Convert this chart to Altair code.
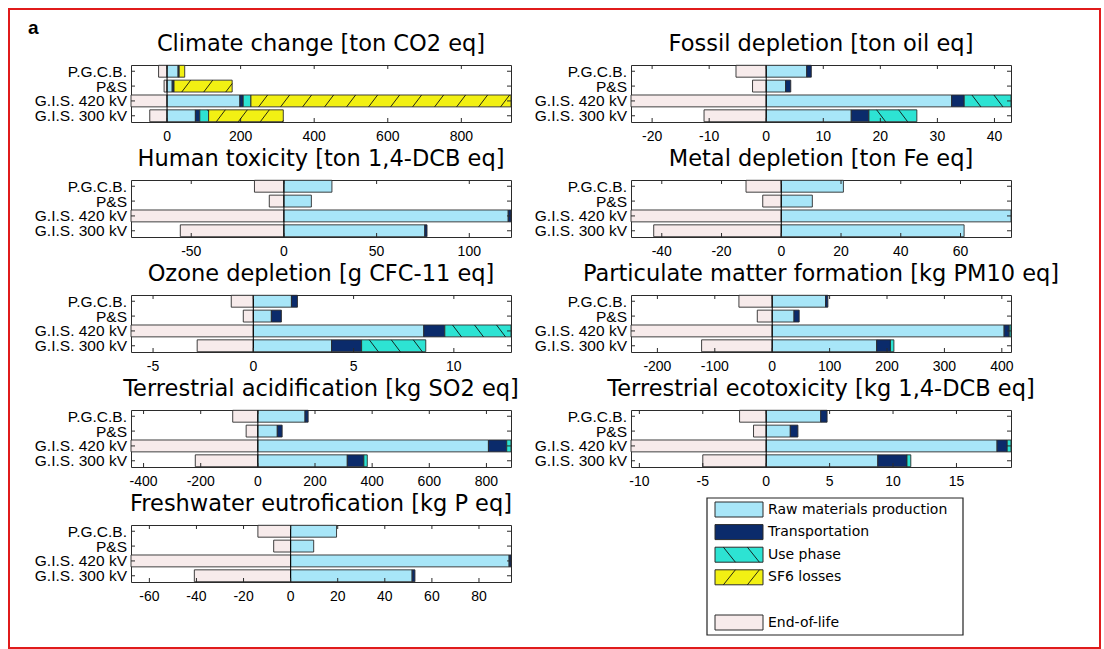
import altair as alt
import pandas as pd

# ---------------------------------------------------------------- data
categories = ["P.G.C.B.", "P&S", "G.I.S. 420 kV", "G.I.S. 300 kV"]
stages = ["Raw materials production", "Transportation", "Use phase", "SF6 losses", "End-of-life"]
stage_colors = ["#a8e6f8", "#0b2b6b", "#2de3d3", "#f2f013", "#f7ebeb"]
hatched = {"Use phase": "\\", "SF6 losses": "/"}

climate_title = "Climate change [ton CO2 eq]"
climate_raw = [30, 14, 198, 77]
climate_transport = [3, 5, 9, 12]
climate_use = [0, 0, 21, 24]
climate_sf6 = [15, 158, 707, 203]
climate_eol = [-23, -8, -98, -47]
climate_ticks = [0, 200, 400, 600, 800]

fossil_title = "Fossil depletion [ton oil eq]"
fossil_raw = [7.1, 3.4, 32.5, 14.9]
fossil_transport = [0.8, 0.9, 2.2, 3.1]
fossil_use = [0, 0, 8.2, 8.4]
fossil_sf6 = [0, 0, 0, 0]
fossil_eol = [-5.3, -2.4, -23.7, -10.9]
fossil_ticks = [-20, -10, 0, 10, 20, 30, 40]

human_title = "Human toxicity [ton 1,4-DCB eq]"
human_raw = [25.9, 14.8, 121.0, 76.0]
human_transport = [0, 0, 1.5, 1.2]
human_use = [0, 0, 0, 0]
human_sf6 = [0, 0, 0, 0]
human_eol = [-15.9, -7.9, -82.5, -55.9]
human_ticks = [-50, 0, 50, 100]

metal_title = "Metal depletion [ton Fe eq]"
metal_raw = [20.8, 10.4, 76.9, 61.2]
metal_transport = [0, 0, 0, 0]
metal_use = [0, 0, 0, 0]
metal_sf6 = [0, 0, 0, 0]
metal_eol = [-11.8, -6.2, -50.3, -42.7]
metal_ticks = [-40, -20, 0, 20, 40, 60]

ozone_title = "Ozone depletion [g CFC-11 eq]"
ozone_raw = [1.9, 0.9, 8.5, 3.9]
ozone_transport = [0.3, 0.5, 1.05, 1.5]
ozone_use = [0, 0, 3.3, 3.2]
ozone_sf6 = [0, 0, 0, 0]
ozone_eol = [-1.1, -0.5, -6.1, -2.8]
ozone_ticks = [-5, 0, 5, 10]

pm_title = "Particulate matter formation [kg PM10 eq]"
pm_raw = [93, 38, 404, 182]
pm_transport = [4, 9, 9, 24]
pm_use = [0, 0, 3, 6]
pm_sf6 = [0, 0, 0, 0]
pm_eol = [-58, -26, -246, -123]
pm_ticks = [-200, -100, 0, 100, 200, 300, 400]

acid_title = "Terrestrial acidification [kg SO2 eq]"
acid_raw = [165, 68, 807, 313]
acid_transport = [11, 17, 64, 58]
acid_use = [0, 0, 15, 12]
acid_sf6 = [0, 0, 0, 0]
acid_eol = [-88, -41, -444, -219]
acid_ticks = [-400, -200, 0, 200, 400, 600, 800]

ecotox_title = "Terrestrial ecotoxicity [kg 1,4-DCB eq]"
ecotox_raw = [4.3, 1.9, 18.2, 8.8]
ecotox_transport = [0.5, 0.6, 0.8, 2.3]
ecotox_use = [0, 0, 0.3, 0.3]
ecotox_sf6 = [0, 0, 0, 0]
ecotox_eol = [-2.1, -1.0, -10.66, -5.0]
ecotox_ticks = [-10, -5, 0, 5, 10, 15]

fresh_title = "Freshwater eutrofication [kg P eq]"
fresh_raw = [19.5, 9.8, 92.8, 51.6]
fresh_transport = [0, 0, 0.8, 1.2]
fresh_use = [0, 0, 0, 0]
fresh_sf6 = [0, 0, 0, 0]
fresh_eol = [-13.9, -7.2, -67.8, -40.9]
fresh_ticks = [-60, -40, -20, 0, 20, 40, 60, 80]

# ---------------------------------------------------------------- styling
W, H = 380, 57
BAR_HALF = 0.4
Y_LO, Y_HI = 0.58, 4.42
TICK_LEN = 4
HATCH_STEP_PX = 22.0
HATCH_SLANT_PX = 9.0
TITLE_FONT = "DejaVu Sans"
LABEL_FONT = "Liberation Sans"
LEGEND_FONT = "DejaVu Sans"
EDGE = "#2b2b2b"


def hatch_segments(a, b, top, bottom, direction, step, slant):
    """Diagonal hatch strokes clipped to the rectangle [a, b] x [top, bottom]."""
    ys, ye = (bottom, top) if direction == "/" else (top, bottom)
    out = []
    xs = a + 0.35 * step
    while xs - step + slant > a:
        xs -= step
    while xs < b:
        t0 = max(0.0, (a - xs) / slant)
        t1 = min(1.0, (b - xs) / slant)
        if t1 > t0:
            out.append(dict(hx0=xs + t0 * slant, hx1=xs + t1 * slant,
                            hy0=ys + t0 * (ye - ys), hy1=ys + t1 * (ye - ys)))
        xs += step
    return out


color_enc = alt.Color("stage:N", scale=alt.Scale(domain=stages, range=stage_colors), legend=None)


def impact_panel(title, raw, transport, use, sf6, eol, ticks):
    series = [raw, transport, use, sf6]
    totals = [sum(s[i] for s in series) for i in range(len(categories))]
    lo, hi = min(eol), max(totals)
    ppu = W / (hi - lo)
    step = HATCH_STEP_PX / ppu
    slant = HATCH_SLANT_PX / ppu

    bars, lines = [], []
    for i, cat in enumerate(categories):
        pos = i + 1
        top, bottom = pos - BAR_HALF, pos + BAR_HALF
        bars.append(dict(cat=cat, stage="End-of-life", x0=eol[i], x1=0, y0=top, y1=bottom))
        left = 0.0
        for stage, vals in zip(stages[:4], series):
            v = vals[i]
            if v <= 0:
                continue
            bars.append(dict(cat=cat, stage=stage, x0=left, x1=left + v, y0=top, y1=bottom))
            if stage in hatched:
                lines += hatch_segments(left, left + v, top, bottom, hatched[stage], step, slant)
            left += v

    xs = alt.Scale(domain=[lo, hi], nice=False, zero=False)
    ys = alt.Scale(domain=[Y_LO, Y_HI], reverse=True, nice=False, zero=False)

    layers = [
        alt.Chart(pd.DataFrame(bars)).mark_rect(stroke=EDGE, strokeWidth=0.9).encode(
            x=alt.X("x0:Q", scale=xs, axis=None),
            x2="x1:Q",
            y=alt.Y("y0:Q", scale=ys, axis=None),
            y2="y1:Q",
            color=color_enc,
        )
    ]
    if lines:
        layers.append(
            alt.Chart(pd.DataFrame(lines)).mark_rule(color="#111111", strokeWidth=0.9).encode(
                x=alt.X("hx0:Q", scale=xs, axis=None), x2="hx1:Q",
                y=alt.Y("hy0:Q", scale=ys, axis=None), y2="hy1:Q",
            )
        )
    layers.append(
        alt.Chart(pd.DataFrame({"z": [0]})).mark_rule(color="black", strokeWidth=1).encode(
            x=alt.X("z:Q", scale=xs, axis=None), y=alt.value(0), y2=alt.value(H)
        )
    )
    # inward tick marks on all four sides of the box
    tick_df = pd.DataFrame({"t": ticks, "label": [str(t) for t in ticks]})
    for y0, y1 in [(0, TICK_LEN), (H - TICK_LEN, H)]:
        layers.append(
            alt.Chart(tick_df).mark_rule(color=EDGE, strokeWidth=1).encode(
                x=alt.X("t:Q", scale=xs, axis=None), y=alt.value(y0), y2=alt.value(y1)
            )
        )
    pos_df = pd.DataFrame({"p": [1, 2, 3, 4], "cat": categories})
    for x0, x1 in [(0, TICK_LEN), (W - TICK_LEN, W)]:
        layers.append(
            alt.Chart(pos_df).mark_rule(color=EDGE, strokeWidth=1).encode(
                y=alt.Y("p:Q", scale=ys, axis=None), x=alt.value(x0), x2=alt.value(x1)
            )
        )
    # tick labels and category labels
    layers.append(
        alt.Chart(tick_df).mark_text(baseline="top", fontSize=14, font=LABEL_FONT,
                                     color="black").encode(
            x=alt.X("t:Q", scale=xs, axis=None), y=alt.value(H + 8), text="label:N"
        )
    )
    layers.append(
        alt.Chart(pos_df).mark_text(align="right", baseline="middle", fontSize=15.5,
                                    font=LABEL_FONT, color="black", dy=0.5).encode(
            y=alt.Y("p:Q", scale=ys, axis=None), x=alt.value(-4), text="cat:N"
        )
    )
    return alt.layer(*layers).properties(
        width=W, height=H,
        title=alt.TitleParams(title, fontSize=22.5, font=TITLE_FONT, fontWeight="normal",
                              anchor="middle", color="black", offset=9),
    )


panels = [
    impact_panel(climate_title, climate_raw, climate_transport, climate_use, climate_sf6,
                 climate_eol, climate_ticks),
    impact_panel(fossil_title, fossil_raw, fossil_transport, fossil_use, fossil_sf6,
                 fossil_eol, fossil_ticks),
    impact_panel(human_title, human_raw, human_transport, human_use, human_sf6,
                 human_eol, human_ticks),
    impact_panel(metal_title, metal_raw, metal_transport, metal_use, metal_sf6,
                 metal_eol, metal_ticks),
    impact_panel(ozone_title, ozone_raw, ozone_transport, ozone_use, ozone_sf6,
                 ozone_eol, ozone_ticks),
    impact_panel(pm_title, pm_raw, pm_transport, pm_use, pm_sf6, pm_eol, pm_ticks),
    impact_panel(acid_title, acid_raw, acid_transport, acid_use, acid_sf6,
                 acid_eol, acid_ticks),
    impact_panel(ecotox_title, ecotox_raw, ecotox_transport, ecotox_use, ecotox_sf6,
                 ecotox_eol, ecotox_ticks),
    impact_panel(fresh_title, fresh_raw, fresh_transport, fresh_use, fresh_sf6,
                 fresh_eol, fresh_ticks),
]

# ---------------------------------------------------------------- legend cell
LEG_W, LEG_H = 256, 137
leg_x = alt.Scale(domain=[0, LEG_W], range=[76, 332], nice=False, zero=False)
leg_y = alt.Scale(domain=[0, LEG_H], range=[-27, 110], nice=False, zero=False)
legend_slots = [0, 1, 2, 3, 5]
swatches, leg_lines = [], []
for stage, slot in zip(stages, legend_slots):
    yc = 11.5 + 22.6 * slot
    top, bottom = yc - 7.5, yc + 7.5
    swatches.append(dict(stage=stage, x0=8, x1=56, y0=top, y1=bottom, tx=61, ty=yc))
    if stage in hatched:
        leg_lines += hatch_segments(8, 56, top, bottom, hatched[stage], 24, 12)

box_df = pd.DataFrame([dict(x0=0, x1=LEG_W, y0=0, y1=LEG_H)])
sw_df = pd.DataFrame(swatches)

# figure frame and panel letter, placed relative to this last cell
one = pd.DataFrame({"k": [0]})
frame = alt.Chart(one).mark_rect(filled=False, stroke="#e01b1b", strokeWidth=2).encode(
    x=alt.value(-622), x2=alt.value(469), y=alt.value(-516), y2=alt.value(123)
)
letter = alt.Chart(one).mark_text(text="a", fontSize=19, fontWeight="bold", font="Liberation Sans",
                                  align="left", baseline="alphabetic").encode(
    x=alt.value(-603), y=alt.value(-491)
)

legend = alt.layer(
    frame,
    letter,
    alt.Chart(box_df).mark_rect(fill="white", stroke="#222222", strokeWidth=1.2).encode(
        x=alt.X("x0:Q", scale=leg_x, axis=None), x2="x1:Q",
        y=alt.Y("y0:Q", scale=leg_y, axis=None), y2="y1:Q",
    ),
    alt.Chart(sw_df).mark_rect(stroke=EDGE, strokeWidth=1).encode(
        x=alt.X("x0:Q", scale=leg_x, axis=None), x2="x1:Q",
        y=alt.Y("y0:Q", scale=leg_y, axis=None), y2="y1:Q",
        color=color_enc,
    ),
    alt.Chart(pd.DataFrame(leg_lines)).mark_rule(color="#111111", strokeWidth=0.9).encode(
        x=alt.X("hx0:Q", scale=leg_x, axis=None), x2="hx1:Q",
        y=alt.Y("hy0:Q", scale=leg_y, axis=None), y2="hy1:Q",
    ),
    alt.Chart(sw_df).mark_text(align="left", baseline="middle", fontSize=14, font=LEGEND_FONT,
                               color="black").encode(
        x=alt.X("tx:Q", scale=leg_x, axis=None),
        y=alt.Y("ty:Q", scale=leg_y, axis=None),
        text="stage:N",
    ),
).properties(width=W, height=H, view=alt.ViewBackground(stroke="transparent"))

chart = alt.concat(
    *panels, legend, columns=2, spacing={"row": 58, "column": 120}, bounds="flush"
).properties(
    padding={"left": 7, "top": 7, "right": 0, "bottom": 0}, background="white"
).configure_view(stroke=EDGE, strokeWidth=1)

chart.save("out.html", embed_options={"renderer": "svg", "actions": False})
